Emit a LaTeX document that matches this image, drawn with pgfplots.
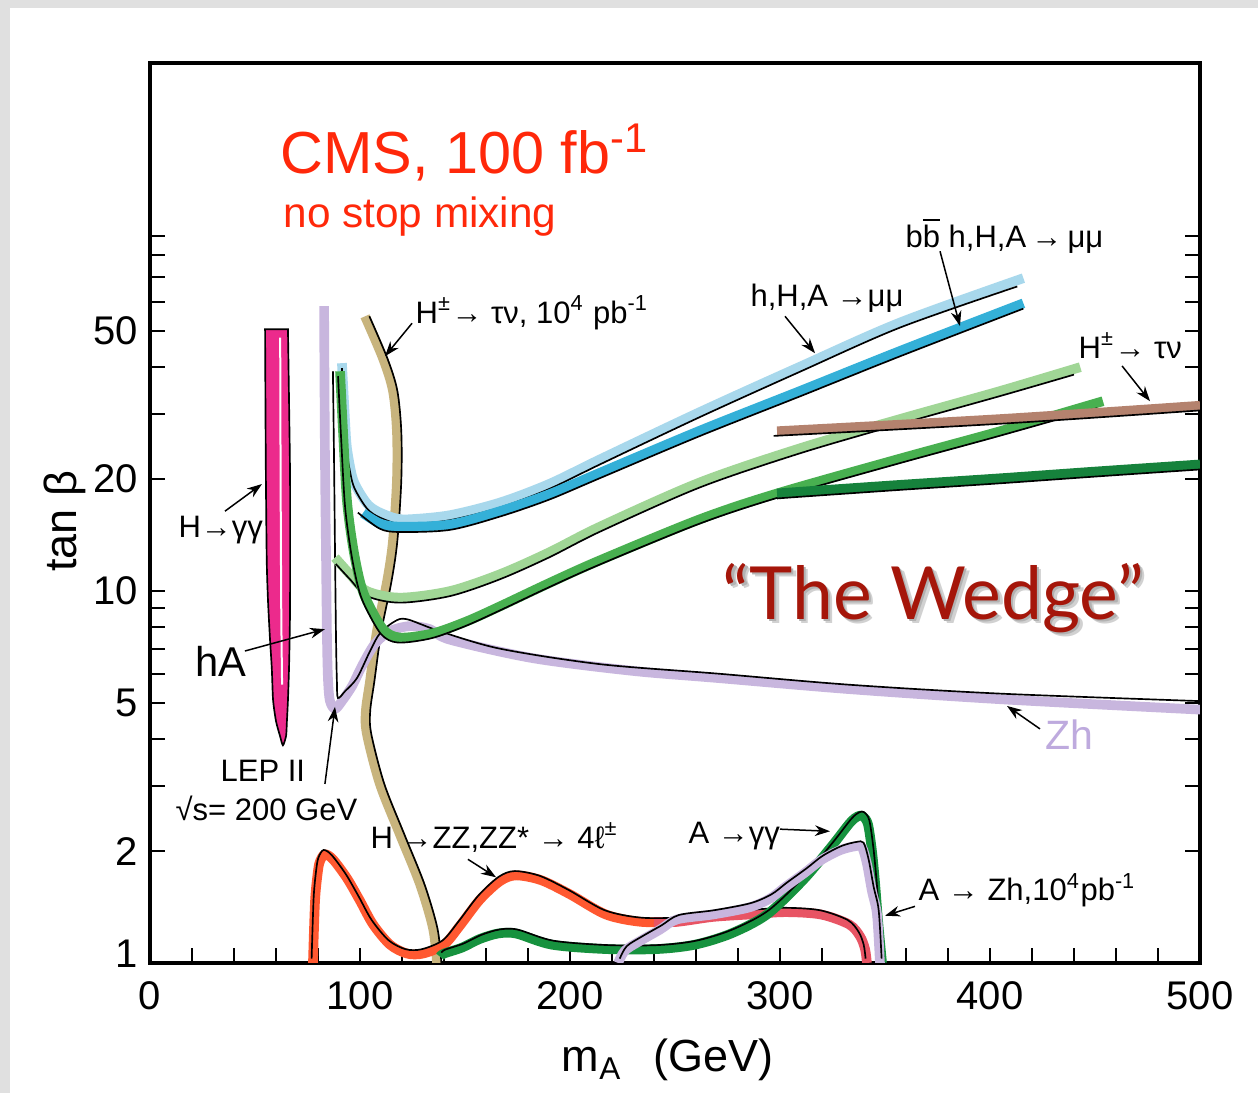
\documentclass[border=0pt]{standalone}
\usepackage{fontspec}
\setmainfont{Liberation Sans}
\newfontfamily\wedgefont{Lato}
\usepackage{pgfplots}
\pgfplotsset{compat=1.18}
\usetikzlibrary{arrows.meta}

\definecolor{hotpinkc}{RGB}{236,42,140}
\definecolor{lavc}{RGB}{200,182,222}
\definecolor{tanc}{RGB}{200,180,125}
\definecolor{lbluec}{RGB}{168,216,236}
\definecolor{bluec}{RGB}{52,176,216}
\definecolor{lgreenc}{RGB}{160,214,150}
\definecolor{mgreenc}{RGB}{72,176,80}
\definecolor{dgreenc}{RGB}{22,130,60}
\definecolor{brownc}{RGB}{180,130,110}
\definecolor{redc}{RGB}{255,88,48}
\definecolor{pinkredc}{RGB}{232,84,100}
\definecolor{bgreenc}{RGB}{22,146,62}
\definecolor{cmsred}{RGB}{255,40,10}
\definecolor{wedgered}{RGB}{165,22,10}
\definecolor{zhlav}{RGB}{190,170,222}

\begin{document}
\begin{tikzpicture}
\fill[black!12] (-45pt,-39pt) rectangle (332.4pt,288.9pt);
\fill[white] (-42pt,-39pt) rectangle (332.4pt,286.5pt);
\begin{axis}[
  name=main, at={(0,0)}, anchor=south west,
  scale only axis, width=315pt, height=270pt,
  xmin=0, xmax=500, ymode=log, ymin=1, ymax=263,
  xtick={0,100,200,300,400,500}, xticklabels={0,100,200,300,400,500},
  minor xtick={20,40,60,80,120,140,160,180,220,240,260,280,320,340,360,380,420,440,460,480},
  ytick={1,2,5,10,20,50}, yticklabels={\smash{\raisebox{-1.5pt}{1}},2,5,10,20,50},
  minor ytick={3,4,6,7,8,9,30,40,60,70,80,90},
  xtick pos=left, ytick pos=both,
  tick align=inside,
  major tick length=4.5pt, minor tick length=4.5pt,
  axis line style={line width=1.1pt},
  tick style={black, line width=0.6pt},
  tick label style={font=\fontsize{12}{12}\selectfont},
  xticklabel style={yshift=-2pt},
  label style={font=\fontsize{13.5}{14}\selectfont},
  xlabel={m\textsubscript{A}\hspace{0.7em}(GeV)},
  ylabel={tan β},
  xlabel style={at={(axis description cs:0.493,-0.108)}, anchor=center},
  ylabel style={at={(axis description cs:-0.081,0.491)}, anchor=center},
  band/.style={line width=2.9pt, line cap=butt, line join=round, smooth, tension=0.5},
  edge/.style={black, line width=0.5pt, smooth, tension=0.5},
]
% H -> gamma gamma (pink)
\addplot[fill=hotpinkc, draw=black, line width=0.5pt, smooth, tension=0.4] coordinates {
 (54.8,50.6) (55.0,30) (55.2,19.8) (55.6,12) (56.2,9.4) (57.1,7.5) (58.0,6.2) (58.6,5.1) (60,4.47) (61.9,4.08) (63.3,3.85)
 (64.8,4.08) (65.2,4.47) (65.7,5.1) (66.2,6.2) (66.5,7.5) (66.7,9.4) (66.7,19.8) (66.3,30) (65.7,50.6)} -- cycle;
\addplot[white, line width=0.6pt, smooth] coordinates {(62.0,48) (62.2,20) (62.5,9) (62.9,5.6)};

% tan: H+- -> tau nu, 10^4 pb^-1
\addplot[band, tanc] coordinates {
 (102.4,54.8) (111,42.2) (115.7,34.6) (117.6,26.9) (117.6,19.8) (115.7,13.6) (112.9,10.6) (108.1,7.8)
 (104.8,5.73) (102.8,4.76) (103.3,4.13) (109.5,3.03) (119,2.22) (128.6,1.63) (134.8,1.24) (136.7,1.0)};
\addplot[edge, xshift=1.3pt] coordinates {
 (102.4,54.8) (111,42.2) (115.7,34.6) (117.6,26.9) (117.6,19.8) (115.7,13.6) (112.9,10.6) (108.1,7.8)
 (104.8,5.73) (102.8,4.76) (103.3,4.13) (109.5,3.03) (119,2.22) (128.6,1.63) (134.8,1.24) (136.7,1.0)};

% lavender: hA (LEP II) and Zh
\addplot[band, lavc] coordinates {
 (82.9,58.4) (83.3,23.7) (83.8,12.8) (84.3,7.34) (84.8,5.73) (85.7,5.06) (88.1,4.82) (91.4,5.06) (96.2,5.55)
 (101,6.3) (107,7.2) (114.3,7.8) (123.8,8.05) (133.3,7.9) (142.9,7.4) (182.4,6.6) (230,6.1) (270,5.84)
 (333,5.45) (404.8,5.12) (500,4.8)};
\addplot[edge] coordinates {
 (87.1,39.0) (87.6,23.7) (88.1,12.8) (88.6,7.34) (89,5.73) (89.5,5.16) (92.9,5.38) (98.6,5.84) (104.8,6.9)
 (109.5,7.7) (116.7,8.3) (122.4,8.4) (138,7.8) (166.7,7.0) (214.3,6.36) (270,6.0) (333,5.6) (404.8,5.3) (500,5.06)};

% light blue: h,H,A -> mu mu
\addplot[band, lbluec] coordinates {
 (91.4,41.0) (92.9,28.6) (93.8,24.2) (96.2,20.4) (98.6,18.9) (103.3,17.2) (108.1,16.4) (116.7,15.7)
 (123.8,15.6) (142.9,16.0) (166.7,17.3) (190,19.4) (214.3,22.6) (261.9,30.3) (309.5,40.1) (357.1,52.7) (415.9,69.4)};
\addplot[edge, yshift=-1.5pt] coordinates {
 (91.4,41.0) (92.9,28.6) (93.8,24.2) (96.2,20.4) (98.6,18.9) (103.3,17.2) (108.1,16.4) (116.7,15.7)
 (123.8,15.6) (142.9,16.0) (166.7,17.3) (190,19.4) (214.3,22.6) (261.9,30.3) (309.5,40.1) (357.1,52.7) (413,68)};

% blue: bb h,H,A -> mu mu
\addplot[band, bluec] coordinates {
 (101.4,16.2) (109.5,15.2) (119,14.9) (142.9,15.1) (166.7,16.4) (190,18.2) (214.3,20.8) (261.9,27.0) (309.5,34.5)
 (357.1,44.2) (415.9,59.4)};
\addplot[edge, yshift=-1.6pt] coordinates {
 (99,16.8) (109.5,15.2) (119,14.9) (142.9,15.1) (166.7,16.4) (190,18.2) (214.3,20.8) (261.9,27.0) (309.5,34.5)
 (357.1,44.2) (415.9,59.4)};

% light green
\addplot[band, lgreenc] coordinates {
 (88.1,12.3) (95.2,11.1) (103.3,10.0) (119,9.6) (142.9,10.0) (166.7,11.1) (190,12.7) (214.3,14.9) (261.9,19.6)
 (309.5,24.2) (357.1,29.0) (404.8,34.5) (443,40.0)};
\addplot[edge, yshift=-1.5pt] coordinates {
 (88.5,12.2) (95.2,11.1) (103.3,10.0) (119,9.6) (142.9,10.0) (166.7,11.1) (190,12.7) (214.3,14.9) (261.9,19.6)
 (309.5,24.2) (357.1,29.0) (404.8,34.5) (440,39.4)};

% medium green
\addplot[band, mgreenc] coordinates {
 (90.5,39) (91.9,27) (93.8,17.5) (96.7,13.1) (100,10.6) (103.3,9.4) (111,7.9) (119,7.5) (134.8,7.7)
 (151,8.3) (166.7,9.1) (190,10.5) (214.3,12.1) (261.9,15.6) (298.6,18.3) (357.1,22.7) (404.8,26.9) (453.8,32.4)};
\addplot[edge, yshift=-1.5pt, xshift=-0.6pt] coordinates {
 (90.5,39) (91.9,27) (93.8,17.5) (96.7,13.1) (100,10.6) (103.3,9.4) (111,7.9) (119,7.5) (134.8,7.7)
 (151,8.3) (166.7,9.1) (190,10.5) (214.3,12.1) (261.9,15.6) (298.6,18.3) (357.1,22.7) (404.8,26.9) (452,32.0)};

% dark green branch
\addplot[band, dgreenc] coordinates {(298.6,18.3) (310,18.5) (357.1,19.3) (404.8,20.1) (452.4,21.0) (500,21.9)};
\addplot[edge, yshift=-1.5pt] coordinates {(298.6,18.3) (310,18.5) (357.1,19.3) (404.8,20.1) (452.4,21.0) (500,21.9)};

% brown: H+- -> tau nu
\addplot[band, brownc] coordinates {(298.6,26.9) (404.8,29.0) (500,31.5)};
\addplot[edge, yshift=-1.4pt] coordinates {(297,26.9) (404.8,29.0) (500,31.5)};

% red: H -> ZZ -> 4l
\addplot[band, redc] coordinates {
 (77.6,1.0) (78.6,1.47) (80,1.77) (81,1.88) (83.3,1.96) (87.1,1.90) (93.8,1.69) (100,1.47) (106.2,1.27)
 (114.3,1.12) (122.4,1.06) (130,1.06) (140,1.12) (147.6,1.26) (157.1,1.48) (166.7,1.66) (174.3,1.72)
 (186.2,1.67) (200,1.53) (217.1,1.35) (233.8,1.29) (251,1.29)};
\addplot[band, pinkredc] coordinates {
 (240,1.29) (251,1.29) (268,1.33) (285.2,1.35) (302.4,1.37) (319.5,1.35) (332.9,1.27) (338.1,1.18)
 (340.5,1.09) (341.4,1.0)};
\addplot[edge, yshift=1.3pt, xshift=-0.4pt] coordinates {
 (77.6,1.0) (78.6,1.47) (80,1.77) (81,1.88) (83.3,1.96) (87.1,1.90) (93.8,1.69) (100,1.47) (106.2,1.27)
 (114.3,1.12) (122.4,1.06) (130,1.06) (140,1.12) (147.6,1.26) (157.1,1.48) (166.7,1.66) (174.3,1.72)
 (186.2,1.67) (200,1.53) (217.1,1.35) (233.8,1.29) (251,1.29) (268,1.33) (285.2,1.35) (302.4,1.37)
 (319.5,1.35) (332.9,1.27) (338.1,1.18) (340.5,1.09) (341.4,1.0)};

% bottom green: A -> gamma gamma
\addplot[band, bgreenc] coordinates {
 (138.1,1.04) (140,1.06) (148.6,1.10) (157,1.16) (165.7,1.20) (174.3,1.20) (191.4,1.12) (217.1,1.09)
 (241.4,1.09) (259.5,1.12) (276.7,1.20) (293.8,1.35) (311,1.67) (324.3,2.05) (333.3,2.38) (337.1,2.48)
 (339.5,2.48) (341.9,2.36) (343.8,2.0) (345.2,1.66) (346.7,1.30) (348.6,1.0)};
\addplot[edge, yshift=1.2pt, xshift=0.4pt] coordinates {
 (138.1,1.04) (140,1.06) (148.6,1.10) (157,1.16) (165.7,1.20) (174.3,1.20) (191.4,1.12) (217.1,1.09)
 (241.4,1.09) (259.5,1.12) (276.7,1.20) (293.8,1.35) (311,1.67) (324.3,2.05) (333.3,2.38) (337.1,2.48)
 (339.5,2.48) (341.9,2.36) (343.8,2.0) (345.2,1.66) (346.7,1.30) (348.6,1.0)};

% bottom lavender: A -> Zh
\addplot[band, lavc] coordinates {
 (222.9,1.0) (226.2,1.08) (233.8,1.15) (242.9,1.23) (251,1.31) (268,1.35) (285.2,1.41) (295.2,1.49)
 (302.4,1.60) (311.9,1.75) (319.5,1.89) (328.6,2.01) (335.7,2.06) (339,2.05) (341.4,1.85) (343.8,1.56)
 (346.2,1.35) (347.6,1.0)};
\addplot[edge, yshift=1.3pt, xshift=0.5pt] coordinates {
 (222.9,1.0) (226.2,1.08) (233.8,1.15) (242.9,1.23) (251,1.31) (268,1.35) (285.2,1.41) (295.2,1.49)
 (302.4,1.60) (311.9,1.75) (319.5,1.89) (328.6,2.01) (335.7,2.06) (339,2.05) (341.4,1.85) (343.8,1.56)
 (346.2,1.35) (347.6,1.0)};

% top ticks
\pgfplotsinvokeforeach{100,200,300,400}{\draw[line width=0.6pt] (axis cs:#1,263) -- ++(0,-5.5pt);}

% texts
\node[anchor=base west, text=cmsred, font=\fontsize{17.8}{20}\selectfont, inner sep=0pt] at (axis cs:61.9,133) {CMS, 100 fb\textsuperscript{-1}};
\node[anchor=base west, text=cmsred, font=\fontsize{12.7}{14}\selectfont, inner sep=0pt] at (axis cs:63.3,95.1) {no stop mixing};

\tikzset{ann/.style={anchor=base west, inner sep=0pt, font=\fontsize{9.3}{10}\selectfont}}
\node[ann] at (axis cs:359.5,84.1) {b$\overline{\mbox{b}}$ h,H,A\,→\,μμ};
\node[ann] at (axis cs:285.7,58.4) {h,H,A →μμ};
\node[ann] at (axis cs:126.2,52.5) {H\textsuperscript{±}→ τν, 10\textsuperscript{4} pb\textsuperscript{-1}};
\node[ann] at (axis cs:441.9,42.3) {H\textsuperscript{±}→ τν};
\node[ann] at (axis cs:13.3,13.9) {H→γγ};
\node[ann, font=\fontsize{12.5}{13}\selectfont] at (axis cs:21.4,5.91) {hA};
\node[ann] at (axis cs:33.3,3.08) {LEP II};
\node[ann] at (axis cs:11.9,2.41) {√s= 200 GeV};
\node[ann] at (axis cs:104.8,2.03) {H →ZZ,ZZ* → 4ℓ\textsuperscript{±}};
\node[ann] at (axis cs:256.2,2.09) {A →γγ};
\node[ann] at (axis cs:365.7,1.47) {A → Zh,10\textsuperscript{4}pb\textsuperscript{-1}};
\node[ann, text=zhlav, font=\fontsize{12.3}{13}\selectfont] at (axis cs:426.2,3.76) {Zh};

% The Wedge with shadow
\node[anchor=base west, inner sep=0pt, text=black!18, font=\wedgefont\fontsize{22}{24}\selectfont] at ([shift={(1.4pt,-1.4pt)}]axis cs:272.4,8.41) {“The Wedge”};
\node[anchor=base west, inner sep=0pt, text=black!30, font=\wedgefont\fontsize{22}{24}\selectfont] at ([shift={(0.7pt,-0.7pt)}]axis cs:272.4,8.41) {“The Wedge”};
\node[anchor=base west, inner sep=0pt, text=wedgered, font=\wedgefont\fontsize{22}{24}\selectfont] at (axis cs:272.4,8.41) {“The Wedge”};

% arrows
\tikzset{arr/.style={-{Stealth[length=4.5pt,width=3.2pt]}, line width=0.45pt}}
\draw[arr] (axis cs:124.8,52.5) -- (axis cs:111.9,42.8);
\draw[arr] (axis cs:376.2,82) -- (axis cs:385.7,51.6);
\draw[arr] (axis cs:302.4,54.8) -- (axis cs:316.7,43.6);
\draw[arr] (axis cs:462.9,40.3) -- (axis cs:476.2,32.4);
\draw[arr] (axis cs:35.7,16.4) -- (axis cs:53.3,19.4);
\draw[arr] (axis cs:45.2,6.9) -- (axis cs:83.3,7.9);
\draw[arr] (axis cs:83.3,3.03) -- (axis cs:88.1,4.88);
\draw[arr] (axis cs:151.4,1.90) -- (axis cs:164.8,1.70);
\draw[arr] (axis cs:300,2.29) -- (axis cs:323.8,2.26);
\draw[arr] (axis cs:364.3,1.42) -- (axis cs:350,1.34);
\draw[arr] (axis cs:423.8,4.26) -- (axis cs:408.1,4.91);
\end{axis}
\pgfresetboundingbox
\path (-45pt,-39pt) rectangle (332.4pt,288.9pt);
\end{tikzpicture}
\end{document}
